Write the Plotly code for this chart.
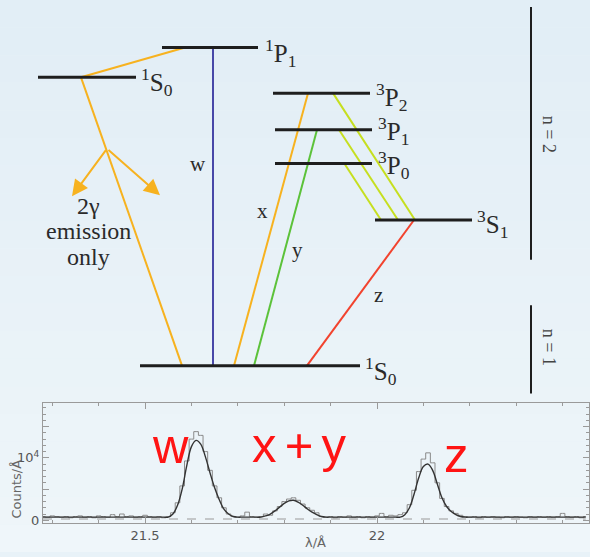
import numpy as np
import plotly.graph_objects as go

# ---------------- Energy-level diagram data (diagram units = pixels) ----------------
level_labels = ["<sup>1</sup>S<sub>0</sub>", "<sup>1</sup>P<sub>1</sub>", "<sup>3</sup>P<sub>2</sub>",
                "<sup>3</sup>P<sub>1</sub>", "<sup>3</sup>P<sub>0</sub>", "<sup>3</sup>S<sub>1</sub>",
                "<sup>1</sup>S<sub>0</sub>"]
level_x0 = [38, 162, 273, 275, 275, 375, 140]
level_x1 = [136, 258, 370, 372, 372, 472, 360]
level_y = [78, 48, 94, 131, 165, 222, 369]
label_x = [139, 263, 374, 376, 376, 475, 363]
label_y = [83, 53, 98, 132, 166, 226, 374]

# transitions: start x, start y, end x, end y, colour
trans_x0 = [185, 81, 308, 317, 213, 333, 339, 345, 414]
trans_y0 = [48, 78, 94, 131, 48, 94, 131, 166, 222]
trans_x1 = [81, 182, 234, 254, 213, 415, 398, 381, 307]
trans_y1 = [78, 369, 369, 369, 369, 222, 222, 222, 369]
trans_col = ["#f7b21f", "#f7b21f", "#f7b21f", "#5cc23a", "#4848a8",
             "#c6df1f", "#c6df1f", "#c6df1f", "#f2432e"]

trans_names = ["w", "x", "y", "z"]
trans_name_x = [198, 262, 297, 378]
trans_name_y = [165, 213, 252, 298]

# two-photon branch arrows
branch_x, branch_y = 107, 150
arrow_x = [72, 160]
arrow_y = [198, 197]

# n-shell bars
shell_labels = ["n = 2", "n = 1"]
shell_x = [531, 531]
shell_y0 = [7, 308]
shell_y1 = [262, 397]
shell_label_x = [549, 549]
shell_label_y = [135, 350]

# ---------------- Spectrum data (units of 1e4 counts/Å) ----------------
lam_start, lam_step = 21.28, 0.01
counts_obs = [
    0.06, 0.05, 0.07, 0.06, 0.05, 0.06, 0.04, 0.06, 0.07, 0.05,
    0.06, 0.04, 0.07, 0.06, 0.05, 0.09, 0.06, 0.10, 0.06, 0.07,
    0.05, 0.06, 0.08, 0.06, 0.05, 0.06, 0.04,
    0.06, 0.12, 0.28, 0.55, 0.95, 1.30, 1.42, 1.36, 1.10, 0.80,
    0.55, 0.36, 0.20, 0.10, 0.06, 0.05, 0.07, 0.13, 0.06, 0.05,
    0.06, 0.10, 0.08, 0.15, 0.22, 0.30, 0.34, 0.36, 0.32, 0.26,
    0.20, 0.16, 0.12, 0.06, 0.05, 0.06, 0.04, 0.06, 0.05, 0.07,
    0.05, 0.06, 0.04, 0.06, 0.05, 0.07, 0.11, 0.06, 0.08, 0.07,
    0.09, 0.12, 0.25, 0.48, 0.78, 0.98, 1.08, 0.92, 0.60, 0.35,
    0.22, 0.15, 0.11, 0.08, 0.06, 0.05, 0.06, 0.04, 0.06, 0.05,
    0.06, 0.05, 0.04, 0.06, 0.05, 0.06, 0.05, 0.04, 0.06, 0.05,
    0.06, 0.05, 0.06, 0.05, 0.06, 0.11, 0.06, 0.05, 0.06, 0.04,
    0.06,
]
counts_model = [
    0.05, 0.05, 0.05, 0.05, 0.05, 0.05, 0.05, 0.05, 0.05, 0.05,
    0.05, 0.05, 0.05, 0.05, 0.05, 0.05, 0.05, 0.05, 0.05, 0.05,
    0.05, 0.05, 0.05, 0.05, 0.05, 0.05, 0.05, 0.05,
    0.10, 0.24, 0.50, 0.88, 1.18, 1.28, 1.22, 1.02, 0.76, 0.52, 0.33, 0.18, 0.10, 0.06,
    0.05, 0.05, 0.05, 0.05, 0.05, 0.05,
    0.07, 0.10, 0.15, 0.21, 0.27, 0.31, 0.32, 0.29, 0.24, 0.18, 0.13, 0.09, 0.06,
    0.05, 0.05, 0.05, 0.05, 0.05, 0.05, 0.05, 0.05, 0.05, 0.05, 0.05, 0.05, 0.05, 0.05,
    0.05, 0.05, 0.05,
    0.09, 0.20, 0.42, 0.68, 0.86, 0.90, 0.80, 0.58, 0.36, 0.22, 0.14, 0.09, 0.06,
    0.05, 0.05, 0.05, 0.05, 0.05, 0.05, 0.05, 0.05, 0.05, 0.05, 0.05, 0.05, 0.05, 0.05,
    0.05, 0.05, 0.05, 0.05, 0.05, 0.05, 0.05, 0.05, 0.05, 0.05, 0.05, 0.05, 0.05,
]
zero_level = 0.02
line_labels = ["w", "x\u2006+\u2006y", "z"]
line_label_lam = [21.555, 21.832, 22.172]
line_label_val = [1.19, 1.20, 1.04]

x_tickvals = [21.5, 22.0]
x_ticktext = ["21.5", "22"]
y_tickvals = [0, 0.5, 1.0, 1.5]
y_ticktext = ["0", "", "10<sup>4</sup>", ""]

lam = lam_start + lam_step * np.arange(len(counts_obs))

SERIF = "Liberation Serif, DejaVu Serif, serif"
SANS = "DejaVu Sans, sans-serif"
INK = "#2a2a2a"

fig = go.Figure()

# transitions
for x0, y0, x1, y1, c in zip(trans_x0, trans_y0, trans_x1, trans_y1, trans_col):
    fig.add_trace(go.Scatter(x=[x0, x1], y=[y0, y1], mode="lines",
                             line=dict(color=c, width=2), xaxis="x", yaxis="y",
                             hoverinfo="skip", showlegend=False))
# levels
for x0, x1, y in zip(level_x0, level_x1, level_y):
    fig.add_trace(go.Scatter(x=[x0, x1], y=[y, y], mode="lines",
                             line=dict(color="#1e1e1e", width=3), xaxis="x", yaxis="y",
                             hoverinfo="skip", showlegend=False))
# shell bars
for x, y0, y1 in zip(shell_x, shell_y0, shell_y1):
    fig.add_trace(go.Scatter(x=[x, x], y=[y0, y1], mode="lines",
                             line=dict(color="#1e1e1e", width=2), xaxis="x", yaxis="y",
                             hoverinfo="skip", showlegend=False))

annotations = []
for t, x, y in zip(level_labels, label_x, label_y):
    annotations.append(dict(x=x, y=y, xref="x", yref="y", text=t, showarrow=False,
                            xanchor="left", yanchor="middle",
                            font=dict(family=SERIF, size=25, color=INK)))
for t, x, y in zip(trans_names, trans_name_x, trans_name_y):
    annotations.append(dict(x=x, y=y, xref="x", yref="y", text=t, showarrow=False,
                            font=dict(family=SERIF, size=21, color=INK)))
for t, x, y in zip(shell_labels, shell_label_x, shell_label_y):
    annotations.append(dict(x=x, y=y, xref="x", yref="y", text=t, showarrow=False,
                            textangle=90, font=dict(family=SERIF, size=18, color="#444")))
for ax_, ay_ in zip(arrow_x, arrow_y):
    annotations.append(dict(x=ax_, y=ay_, ax=branch_x, ay=branch_y, xref="x", yref="y",
                            axref="x", ayref="y", text="", showarrow=True,
                            arrowhead=2, arrowsize=1.6, arrowwidth=2, arrowcolor="#f7b21f"))
for t, y in zip(["2γ", "emission", "only"], [208, 233, 259]):
    annotations.append(dict(x=88, y=y, xref="x", yref="y", text=t, showarrow=False,
                            font=dict(family=SERIF, size=24, color=INK)))

# spectrum traces
fig.add_trace(go.Scatter(x=[lam[0], lam[-1]], y=[zero_level, zero_level], mode="lines",
                         line=dict(color="#9a9a9a", width=1.2, dash="dash"),
                         xaxis="x2", yaxis="y2", hoverinfo="skip", showlegend=False))
fig.add_trace(go.Scatter(x=lam, y=counts_obs, mode="lines", line_shape="hvh",
                         line=dict(color="#8a8a8a", width=1), xaxis="x2", yaxis="y2",
                         showlegend=False))
fig.add_trace(go.Scatter(x=lam, y=counts_model, mode="lines", line_shape="spline",
                         line=dict(color="#333333", width=1.4), xaxis="x2", yaxis="y2",
                         showlegend=False))
for t, x, y in zip(line_labels, line_label_lam, line_label_val):
    annotations.append(dict(x=x, y=y, xref="x2", yref="y2", text=t, showarrow=False,
                            xanchor="center", yanchor="middle",
                            font=dict(family="Liberation Sans, Arial, sans-serif", size=49,
                                      color="#ff1414")))
annotations.append(dict(x=315 / 590, y=(557 - 547) / 557, xref="paper", yref="paper",
                        text="λ/Å", showarrow=False, xanchor="center", yanchor="middle",
                        font=dict(family=SANS, size=13, color="#666")))
annotations.append(dict(x=17 / 590, y=(557 - 494) / 557, xref="paper", yref="paper",
                        text="Counts/Å", showarrow=False, textangle=-90,
                        xanchor="center", yanchor="middle",
                        font=dict(family=SANS, size=13, color="#666")))

# background gradient bands
shapes = []
top = np.array([0xe2, 0xee, 0xf6])
bot = np.array([0xef, 0xf6, 0xfa])
nb = 20
for i in range(nb):
    c = top + (bot - top) * i / (nb - 1)
    shapes.append(dict(type="rect", xref="paper", yref="paper", x0=0, x1=1,
                       y0=1 - (i + 1) / nb, y1=1 - i / nb, layer="below",
                       line=dict(width=0),
                       fillcolor="rgb(%d,%d,%d)" % tuple(c.astype(int))))

axis_common = dict(showline=True, linecolor="#9a9a9a", linewidth=1, mirror="ticks",
                   ticks="inside", ticklen=6, tickcolor="#9a9a9a", showgrid=False,
                   zeroline=False, tickfont=dict(family=SANS, size=13, color="#555"))

fig.update_layout(
    width=590, height=557, margin=dict(l=0, r=0, t=0, b=0),
    paper_bgcolor="#e8f2f8", plot_bgcolor="rgba(0,0,0,0)",
    xaxis=dict(domain=[0, 1], range=[0, 590], visible=False, fixedrange=True),
    yaxis=dict(domain=[0, 1], range=[557, 0], visible=False, fixedrange=True),
    xaxis2=dict(domain=[43 / 590, 589 / 590], range=[21.28, 22.457], anchor="y2",
                tickmode="array", tickvals=x_tickvals, ticktext=x_ticktext,
                minor=dict(dtick=0.1, ticklen=3, ticks="inside", tickcolor="#9a9a9a"),
                **axis_common),
    yaxis2=dict(domain=[(557 - 528) / 557, (557 - 407) / 557], range=[-0.048, 1.873],
                anchor="x2", tickmode="array", tickvals=y_tickvals, ticktext=y_ticktext,
                minor=dict(dtick=0.1, ticklen=3, ticks="inside", tickcolor="#9a9a9a"),
                **axis_common),
    annotations=annotations, shapes=shapes,
)

fig.write_html("out.html", config={"displayModeBar": False},
               post_script="document.body.style.margin='0px';document.body.style.padding='0px';")
